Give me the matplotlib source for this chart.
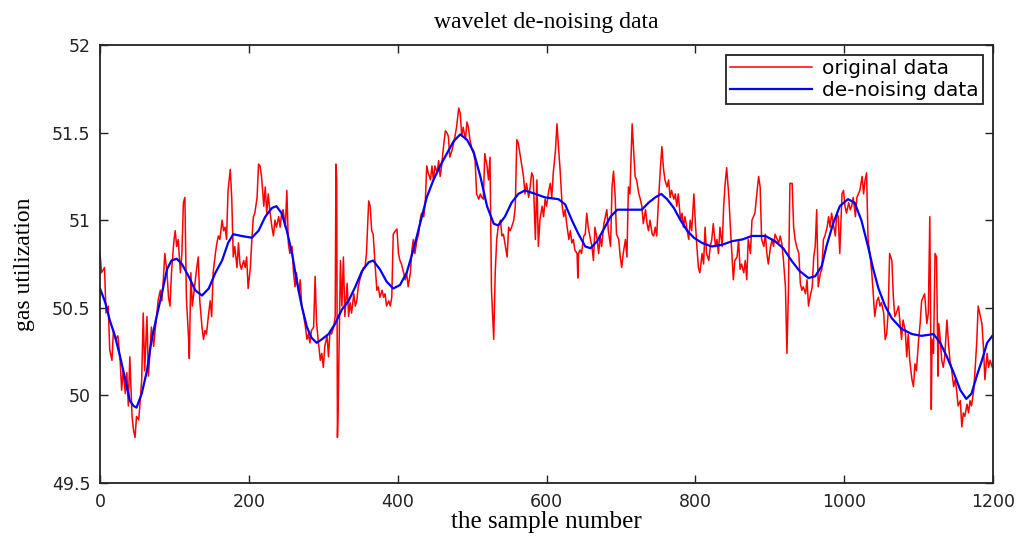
import matplotlib
matplotlib.use('Agg')

import matplotlib.pyplot as plt

# red trace (sample number, value)
red_x = [0, 2, 6, 8, 11, 13, 16, 18, 21, 24, 27, 29, 31, 34, 36, 38, 40, 43, 45, 47,
         49, 52, 54, 56, 58, 60, 63, 65, 67, 69, 72, 74, 76, 78, 81, 83, 85, 87, 90, 92,
         94, 96, 99, 101, 103, 105, 108, 110, 112, 114, 116, 119, 120, 122, 124, 128, 130, 132, 134, 137,
         139, 141, 143, 146, 148, 150, 152, 155, 157, 159, 161, 164, 166, 168, 170, 172, 175, 177, 179, 181,
         184, 186, 188, 190, 193, 195, 197, 199, 202, 204, 206, 208, 211, 213, 215, 217, 220, 222, 224, 226,
         228, 231, 233, 235, 237, 240, 242, 244, 246, 249, 251, 253, 255, 258, 260, 262, 264, 267, 269, 271,
         273, 276, 278, 280, 282, 284, 287, 289,
         291, 293, 296, 298, 300, 302, 305, 307, 309, 311, 314, 316, 317, 318, 319, 320, 323, 325, 327, 329,
         332, 334, 336, 338, 341, 343, 345, 347, 349, 352, 354, 356, 358, 361, 363, 365, 367, 370, 372, 374,
         376, 379, 381, 383, 385, 388, 390, 392, 394, 397, 399, 401, 403, 405, 408, 410, 412, 414, 417, 419,
         421, 423, 426, 428, 430, 432, 435, 437, 439, 441, 444, 446, 448, 450, 453, 455, 457, 459, 461, 464,
         466, 468, 470, 473, 475, 477, 479, 482, 484, 486, 488, 491, 493, 495, 497, 500, 502, 504, 506, 509,
         511, 513, 515, 517, 520, 522, 524, 526, 529, 531, 533, 535, 538, 540, 542, 544, 547, 549, 551, 553,
         556, 558, 560, 562, 565, 567, 569, 571, 573, 576, 578, 580, 582,
         585, 587, 589, 591, 594, 596, 598, 600, 603, 605, 607, 609, 612, 614, 616, 618, 621, 623, 625, 627,
         630, 632, 634, 636, 638, 641, 642, 643, 645, 647, 650, 652, 654, 656, 659, 661, 663, 665, 668, 670,
         672, 674, 677, 679, 681, 683, 686, 688, 690, 692, 694, 697, 699, 701, 703, 706, 708, 710, 712, 715,
         717, 719, 721, 724, 726, 728, 730, 733, 735, 737, 739, 742, 744, 746, 748, 750, 753, 755, 757, 759,
         762, 764, 766, 768, 771, 773, 775, 777, 780, 782, 784, 786, 789, 791, 793, 795, 798, 800, 802, 804,
         806, 809, 811, 813, 815, 818, 820, 822, 824, 827, 829, 831, 833, 836, 838, 840, 842, 845, 847, 849,
         851, 853, 856, 858, 860, 862, 865, 867, 869, 871, 874, 876, 878,
         880, 883, 885, 887, 889, 892, 894, 896, 898, 901, 903, 905, 907, 910, 912, 914, 916, 918, 921, 923,
         925, 927, 930, 932, 934, 936, 939, 941, 943, 945, 948, 950, 952, 954, 957, 959, 961, 963, 965, 968,
         970, 972, 974, 977, 979, 981, 983, 986, 988, 990, 992, 994, 997, 999, 1001, 1003, 1006, 1008, 1010, 1012,
         1015, 1017, 1019, 1021, 1024, 1026, 1028, 1030, 1032, 1035, 1037, 1039, 1041, 1044, 1046, 1048, 1050, 1053, 1055, 1057,
         1059, 1061, 1064, 1066, 1068, 1070, 1073, 1075, 1077, 1079, 1082, 1084, 1086, 1088, 1091, 1093, 1095, 1097, 1100, 1102,
         1104, 1106, 1108, 1111, 1113, 1115, 1117, 1118, 1120, 1122, 1124, 1126, 1127, 1129, 1131, 1133, 1135, 1138, 1140, 1142,
         1144, 1147, 1149, 1151, 1153, 1156, 1158, 1160, 1162, 1165, 1167, 1169, 1171, 1174, 1176, 1178, 1180, 1183, 1185, 1187,
         1189, 1192, 1194, 1196, 1199]
red_y = [50.81, 50.70, 50.73, 50.47, 50.51, 50.26, 50.20, 50.37, 50.32, 50.34, 50.20, 50.03, 50.14, 50.01, 50.13, 49.94, 50.22, 49.88, 49.80, 49.76,
         49.88, 49.86, 49.97, 50.09, 50.47, 50.14, 50.45, 50.11, 50.24, 50.39, 50.28, 50.37, 50.45, 50.54, 50.60, 50.54, 50.66, 50.81, 50.70, 50.56,
         50.51, 50.70, 50.87, 50.94, 50.85, 50.89, 50.70, 50.81, 51.10, 51.13, 50.56, 50.32, 50.21, 50.70, 50.51, 50.66, 50.73, 50.79, 50.54, 50.39,
         50.32, 50.37, 50.35, 50.47, 50.54, 50.45, 50.70, 50.81, 50.87, 50.91, 50.89, 51.00, 50.94, 50.96, 50.89, 51.17, 51.29, 51.12, 50.79, 50.85,
         50.73, 50.87, 50.75, 50.72, 50.77, 50.73, 50.79, 50.61, 50.73, 50.89, 51.02, 51.04, 51.13, 51.32, 51.31, 51.25, 51.08, 51.19, 51.04, 51.15,
         51.06, 50.96, 50.91, 51.00, 50.96, 51.02, 50.96, 51.04, 51.06, 50.96, 51.17, 50.87, 50.81, 50.85, 50.70, 50.62, 50.70, 50.58, 50.66, 50.51,
         50.47, 50.39, 50.32, 50.35, 50.30, 50.37, 50.39, 50.68,
         50.41, 50.32, 50.20, 50.24, 50.16, 50.28, 50.34, 50.22, 50.37, 50.35, 50.39, 50.45, 51.32, 51.23, 49.76, 49.94, 50.77, 50.51, 50.79, 50.45,
         50.64, 50.45, 50.53, 50.47, 50.58, 50.51, 50.54, 50.62, 50.66, 50.70, 50.73, 50.73, 50.81, 51.11, 51.08, 50.94, 50.92, 50.72, 50.60, 50.62,
         50.56, 50.60, 50.56, 50.58, 50.51, 50.54, 50.51, 50.56, 50.92, 50.94, 50.95, 50.81, 50.77, 50.75, 50.70, 50.66, 50.70, 50.62, 50.70, 50.83,
         50.89, 50.81, 50.89, 50.92, 51.00, 51.04, 51.02, 51.10, 51.31, 51.27, 51.23, 51.31, 51.23, 51.31, 51.27, 51.34, 51.25, 51.31, 51.40, 51.51,
         51.50, 51.48, 51.36, 51.40, 51.44, 51.48, 51.53, 51.64, 51.61, 51.48, 51.53, 51.46, 51.56, 51.53, 51.46, 51.40, 51.38, 51.34, 51.15, 51.12,
         51.15, 51.13, 51.12, 51.38, 51.31, 51.23, 51.36, 50.60, 50.32, 50.70, 50.89, 50.96, 51.00, 50.91, 50.92, 50.87, 50.79, 50.96, 50.94, 50.96,
         51.00, 51.08, 51.46, 51.44, 51.36, 51.31, 51.25, 51.15, 51.21, 51.13, 51.19, 51.27, 51.25,
         50.89, 51.23, 50.85, 51.00, 51.08, 51.02, 51.12, 51.08, 51.17, 51.21, 51.13, 51.27, 51.40, 51.55, 51.42, 51.30, 51.08, 51.02, 51.06, 50.98,
         50.89, 50.94, 50.87, 50.89, 50.83, 50.81, 50.67, 50.81, 50.83, 50.81, 50.91, 50.92, 51.04, 50.96, 50.89, 50.85, 50.77, 50.96, 50.89, 50.81,
         50.91, 50.85, 50.98, 51.02, 51.06, 50.94, 50.85, 51.19, 51.28, 51.15, 50.92, 50.89, 50.79, 50.73, 50.81, 50.89, 50.79, 51.19, 51.15, 51.55,
         51.40, 51.25, 51.23, 51.15, 51.12, 51.08, 50.98, 51.06, 50.98, 50.94, 51.00, 50.92, 50.91, 50.96, 50.91, 51.08, 51.30, 51.42, 51.30, 51.23,
         51.19, 51.23, 51.13, 51.17, 51.12, 51.15, 51.08, 51.15, 51.00, 51.04, 50.96, 51.02, 50.94, 50.89, 51.00, 50.94, 51.15, 50.98, 50.85, 50.73,
         50.70, 50.81, 50.75, 50.96, 50.81, 50.77, 50.85, 50.89, 50.98, 50.85, 50.89, 50.81, 50.96, 50.85, 51.08, 51.21, 51.30, 51.13, 50.96, 50.81,
         50.66, 50.77, 50.79, 50.89, 50.72, 50.75, 50.70, 50.77, 50.66, 50.89, 50.81, 51.00, 51.02,
         51.04, 51.17, 51.25, 51.19, 50.89, 50.85, 50.92, 50.81, 50.75, 50.85, 50.89, 50.85, 50.92, 50.89, 50.87, 50.91, 50.87, 50.79, 50.62, 50.24,
         50.60, 51.21, 51.21, 50.96, 50.89, 50.85, 50.81, 50.64, 50.60, 50.62, 50.58, 50.66, 50.51, 50.56, 50.62, 50.79, 50.85, 51.06, 50.62, 50.70,
         50.72, 50.89, 50.91, 50.96, 51.02, 50.96, 51.04, 50.96, 50.91, 51.04, 51.02, 50.81, 51.15, 51.17, 51.08, 51.04, 51.10, 51.06, 51.08, 51.13,
         51.02, 51.13, 51.15, 51.17, 51.25, 51.15, 51.23, 51.27, 50.89, 50.79, 50.70, 50.58, 50.45, 50.54, 50.56, 50.51, 50.53, 50.47, 50.32, 50.35,
         50.47, 50.81, 50.77, 50.56, 50.45, 50.47, 50.51, 50.41, 50.32, 50.43, 50.37, 50.22, 50.35, 50.20, 50.09, 50.05, 50.18, 50.14, 50.32, 50.41,
         50.54, 50.56, 50.58, 50.41, 50.47, 51.02, 49.92, 50.32, 50.24, 50.81, 50.79, 50.11, 50.41, 50.32, 50.20, 50.16, 50.22, 50.43, 50.30, 50.20,
         50.16, 50.05, 50.09, 50.03, 49.94, 49.97, 49.82, 49.90, 49.88, 49.95, 49.90, 49.97, 49.94, 50.03, 50.16, 50.30, 50.51, 50.45, 50.41, 50.28,
         50.09, 50.24, 50.16, 50.20, 50.16]

# blue (de-noised) trace
blue_x = [0, 7, 13, 20, 27, 34, 40, 45, 49, 56, 63, 69, 76, 83, 90, 96, 103, 110, 119, 128,
          137, 146, 155, 164, 172, 179, 190, 204, 213, 222, 231, 237, 244, 251, 258, 264, 271, 278, 284, 291,
          298, 307, 316, 325, 334, 343, 352, 361, 367, 376, 385, 394, 403, 412, 421, 430, 439, 448, 457, 466,
          475, 484, 493, 502, 511, 520, 529, 535, 544, 553, 562, 571, 585, 598, 616, 625, 634, 643, 652, 659,
          668, 677, 686, 695, 728, 737, 746, 754, 762, 771, 780, 789, 798, 809, 822, 836, 849, 863, 876, 894,
          907, 918, 929, 940, 952, 961, 970, 976, 985, 994, 1005, 1014, 1023, 1032, 1039, 1046, 1055, 1064, 1077, 1091,
          1104, 1120, 1129, 1138, 1147, 1156, 1164, 1171, 1178, 1185, 1192, 1199]
blue_y = [50.61, 50.53, 50.43, 50.34, 50.22, 50.09, 49.97, 49.94, 49.93, 50.01, 50.14, 50.31, 50.45, 50.58, 50.72, 50.77, 50.78, 50.75, 50.68, 50.60,
          50.57, 50.61, 50.70, 50.77, 50.87, 50.92, 50.91, 50.90, 50.94, 51.02, 51.07, 51.08, 51.04, 50.94, 50.81, 50.66, 50.51, 50.39, 50.33, 50.30,
          50.32, 50.35, 50.41, 50.49, 50.54, 50.62, 50.71, 50.76, 50.77, 50.72, 50.65, 50.61, 50.63, 50.70, 50.83, 50.98, 51.13, 51.23, 51.31, 51.38,
          51.45, 51.49, 51.46, 51.39, 51.25, 51.08, 50.98, 50.97, 51.02, 51.10, 51.15, 51.17, 51.15, 51.13, 51.12, 51.09, 51.00, 50.92, 50.85, 50.84,
          50.88, 50.95, 51.02, 51.06, 51.06, 51.10, 51.13, 51.15, 51.12, 51.07, 51.00, 50.94, 50.90, 50.87, 50.85, 50.86, 50.88, 50.89, 50.91, 50.91,
          50.88, 50.84, 50.77, 50.71, 50.67, 50.68, 50.74, 50.85, 50.98, 51.08, 51.12, 51.10, 51.00, 50.85, 50.72, 50.61, 50.51, 50.44, 50.38, 50.35,
          50.34, 50.35, 50.30, 50.22, 50.13, 50.03, 49.98, 50.01, 50.11, 50.20, 50.30, 50.34]

x_ticks = [0, 200, 400, 600, 800, 1000, 1200]
y_ticks = [49.5, 50, 50.5, 51, 51.5, 52]
y_labels = ['49.5', '50', '50.5', '51', '51.5', '52']

serif = 'Liberation Serif'
sans = 'DejaVu Sans'

fig = plt.figure(figsize=(10.24, 5.39), dpi=100)
ax = fig.add_axes([0.0977, 0.1039, 0.8721, 0.8126])

ax.plot(red_x, red_y, color='#ff0000', linewidth=1.1, label='original data')
ax.plot(blue_x, blue_y, color='#0000ff', linewidth=1.6, label='de-noising data')

ax.set_xlim(0, 1200)
ax.set_ylim(49.5, 52)
ax.set_xticks(x_ticks)
ax.set_xticklabels([str(t) for t in x_ticks], fontfamily=sans, fontsize=12.5)
ax.set_yticks(y_ticks)
ax.set_yticklabels(y_labels, fontfamily=sans, fontsize=12.5)
ax.tick_params(direction='in', top=True, right=True, length=6, width=1, pad=7, colors='#222222')
for s in ax.spines.values():
    s.set_linewidth(1.3)
    s.set_color('#222222')

ax.set_title('wavelet de-noising data', fontfamily=serif, fontsize=17, pad=12)
ax.set_xlabel('the sample number', fontfamily=serif, fontsize=18, labelpad=0)
ax.set_ylabel('gas utilization', fontfamily=serif, fontsize=17, labelpad=12)

leg = ax.legend(loc='upper right', prop={'family': sans, 'size': 14.5}, handlelength=4.1,
                fancybox=False, framealpha=1, edgecolor='#222222', borderpad=0.2,
                labelspacing=0.15, borderaxespad=0.5, handletextpad=0.5)
leg.get_frame().set_linewidth(1.3)

plt.savefig('out.png', dpi=100)
